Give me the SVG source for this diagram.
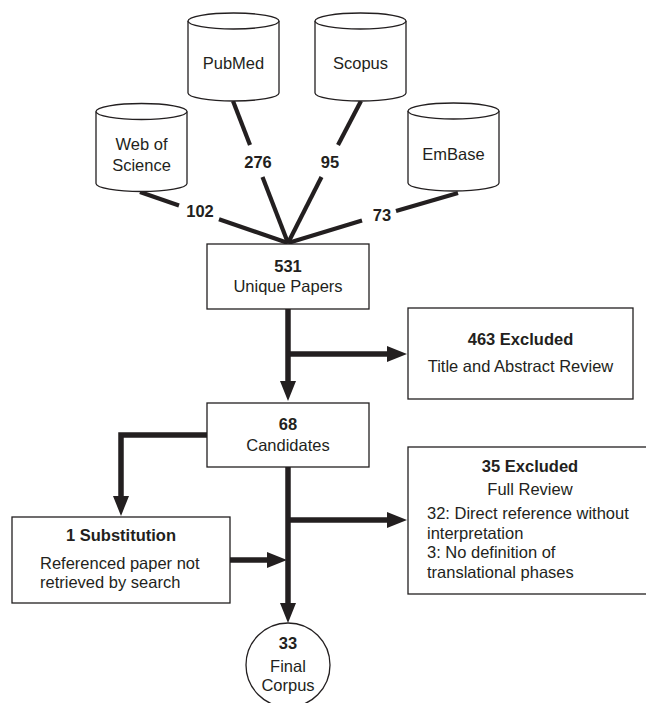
<svg xmlns="http://www.w3.org/2000/svg" width="646" height="703" viewBox="0 0 646 703">
<style>
text{font-family:"Liberation Sans",Arial,sans-serif;font-size:16.5px;fill:#231f20}
.b{font-weight:bold}
.m{text-anchor:middle}
.box{fill:#fff;stroke:#231f20;stroke-width:1.3}
.cyl{fill:#fff;stroke:#231f20;stroke-width:1.3}
.thin{fill:none;stroke:#231f20;stroke-width:4.2}
.thick{fill:none;stroke:#231f20;stroke-width:5.5}
</style>
<defs>
<marker id="ah" markerUnits="userSpaceOnUse" markerWidth="20" markerHeight="16" refX="0" refY="8" orient="auto" overflow="visible">
<path d="M-1,0 L19,8 L-1,16 Z" fill="#231f20"/>
</marker>
</defs>
<rect width="646" height="703" fill="#fff"/>

<g id="connectors">
<line class="thin" x1="140" y1="192" x2="179" y2="205.5"/>
<line class="thin" x1="219" y1="219.3" x2="288" y2="243"/>
<line class="thin" x1="233" y1="101" x2="250" y2="145"/>
<line class="thin" x1="262.5" y1="177" x2="288" y2="243"/>
<line class="thin" x1="361" y1="101" x2="338" y2="145"/>
<line class="thin" x1="321.5" y1="177" x2="288" y2="243"/>
<line class="thin" x1="458" y1="193" x2="396" y2="211"/>
<line class="thin" x1="362" y1="220.5" x2="288" y2="243"/>
<line class="thick" x1="288" y1="309" x2="288" y2="382" marker-end="url(#ah)"/>
<line class="thick" x1="288" y1="354" x2="388" y2="354" marker-end="url(#ah)"/>
<polyline class="thick" points="207,435 121,435 121,497" marker-end="url(#ah)"/>
<line class="thick" x1="230" y1="560" x2="268" y2="560" marker-end="url(#ah)"/>
<line class="thick" x1="288" y1="467" x2="288" y2="604" marker-end="url(#ah)"/>
<line class="thick" x1="288" y1="520" x2="388" y2="520" marker-end="url(#ah)"/>
<text class="b m" x="200" y="217">102</text>
<text class="b m" x="258" y="168">276</text>
<text class="b m" x="330" y="168">95</text>
<text class="b m" x="382" y="221">73</text>
</g>

<g id="pubmed" transform="translate(188,13)">
<path class="cyl" d="M0,8 L0,80 A45.5,8 0 0 0 91,80 L91,8"/>
<ellipse class="cyl" cx="45.5" cy="8" rx="45.5" ry="8"/>
<text class="m" x="45.5" y="56">PubMed</text>
</g>
<g id="scopus" transform="translate(315,13)">
<path class="cyl" d="M0,8 L0,80 A45.5,8 0 0 0 91,80 L91,8"/>
<ellipse class="cyl" cx="45.5" cy="8" rx="45.5" ry="8"/>
<text class="m" x="45.5" y="56">Scopus</text>
</g>
<g id="webofscience" transform="translate(96,103.5)">
<path class="cyl" d="M0,8 L0,80 A45.5,8 0 0 0 91,80 L91,8"/>
<ellipse class="cyl" cx="45.5" cy="8" rx="45.5" ry="8"/>
<text class="m" x="45.5" y="46.5">Web of</text>
<text class="m" x="45.5" y="67.5">Science</text>
</g>
<g id="embase" transform="translate(408,103)">
<path class="cyl" d="M0,8 L0,80 A45.5,8 0 0 0 91,80 L91,8"/>
<ellipse class="cyl" cx="45.5" cy="8" rx="45.5" ry="8"/>
<text class="m" x="45.5" y="57">EmBase</text>
</g>

<g id="unique">
<rect class="box" x="207" y="244" width="162" height="65"/>
<text class="b m" x="288" y="272">531</text>
<text class="m" x="288" y="292">Unique Papers</text>
</g>
<g id="excluded463">
<rect class="box" x="408" y="308" width="225" height="91"/>
<text class="b m" x="520.5" y="345">463 Excluded</text>
<text class="m" x="520.5" y="372">Title and Abstract Review</text>
</g>
<g id="candidates">
<rect class="box" x="207" y="403" width="162" height="64"/>
<text class="b m" x="288" y="430">68</text>
<text class="m" x="288" y="451">Candidates</text>
</g>
<g id="substitution">
<rect class="box" x="12" y="517" width="218" height="86"/>
<text class="b m" x="121" y="541">1 Substitution</text>
<text x="40" y="569">Referenced paper not</text>
<text x="40" y="588">retrieved by search</text>
</g>
<g id="excluded35">
<rect class="box" x="408" y="447" width="244" height="147"/>
<text class="b m" x="530" y="472">35 Excluded</text>
<text class="m" x="530" y="495">Full Review</text>
<text x="427" y="519">32: Direct reference without</text>
<text x="427" y="539">interpretation</text>
<text x="427" y="558">3: No definition of</text>
<text x="427" y="578">translational phases</text>
</g>
<g id="final">
<circle class="box" cx="288" cy="665" r="42"/>
<text class="b m" x="288" y="649">33</text>
<text class="m" x="288" y="672">Final</text>
<text class="m" x="288" y="691">Corpus</text>
</g>
</svg>
